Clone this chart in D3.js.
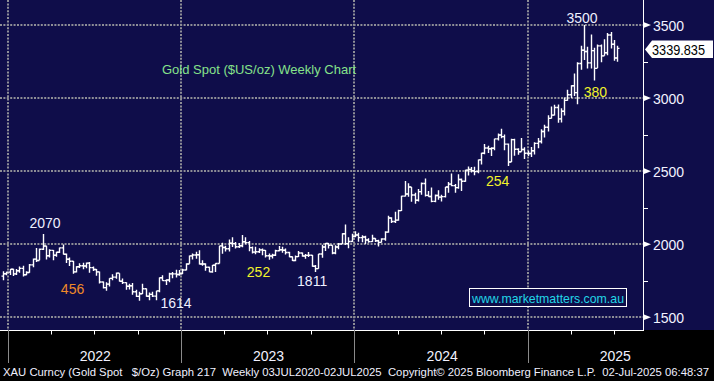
<!DOCTYPE html>
<html><head><meta charset="utf-8">
<script src="https://cdn.jsdelivr.net/npm/d3@7"></script>
<style>
html,body{margin:0;padding:0;background:#000;overflow:hidden}
svg{display:block}
text{font-family:"Liberation Sans",Arial,Helvetica,sans-serif;white-space:pre}
</style>
</head><body>
<svg id="c" width="714" height="381"></svg>
<script>
// ---- Weekly XAU bars (week ending Fridays, 17-Dec-2021 .. 04-Jul-2025) ----
const firstWeek = "2021-12-17";
const lastWeek  = "2025-07-04";

const opens = [1782,1798,1809,
1829,1797,1818,1835,1791,1807,1859,1898,1889,1966,1988,1921,1958,1925,1945,1975,1931,1897,1883,1811,1846,1853,1851,1871,1840,1827,1811,1742,1703,1727,1766,1775,1802,1747,1737,1712,1716,1675,1643,1661,1695,1644,1657,1645,1681,1771,1751,1755,1797,1797,1793,1798,
1824,1865,1920,1926,1928,1865,1865,1842,1811,1856,1868,1989,1978,1969,2007,2004,1983,1990,2017,2011,1977,1946,1948,1961,1958,1921,1919,1925,1955,1962,1959,1943,1914,1889,1915,1940,1919,1924,1925,1849,1833,1933,1981,2006,1993,1940,1981,2002,2072,2004,2019,2053,
2063,2045,2049,2029,2018,2039,2024,2013,2036,2083,2179,2156,2165,2230,2329,2344,2392,2337,2301,2360,2415,2334,2327,2293,2333,2322,2326,2392,2411,2401,2387,2443,2431,2507,2512,2503,2497,2577,2622,2658,2653,2657,2721,2747,2736,2685,2563,2716,2650,2633,2648,2622,
2621,2640,2690,2703,2771,2800,2861,2883,2936,2858,2910,2984,3023,3084,3037,3237,3327,3319,3241,3325,3203,3357,3289,3310,3432,3368,3274];

const highs = [1815,1812,1831,
1832,1830,1848,1853,1815,1865,1902,1974,1970,2070,1990,1966,1960,1948,1978,1998,1936,1910,1885,1849,1870,1874,1875,1879,1847,1830,1813,1745,1739,1767,1795,1807,1802,1765,1740,1729,1735,1688,1675,1729,1697,1670,1675,1681,1773,1787,1760,1805,1810,1825,1823,1833,
1870,1923,1937,1949,1959,1890,1870,1846,1858,1870,1989,2010,1990,2032,2048,2015,2009,2063,2048,2022,1985,1983,1973,1971,1960,1936,1935,1963,1987,1982,1970,1948,1916,1923,1953,1943,1933,1947,1927,1857,1933,1997,2009,2009,1993,1993,2008,2075,2135,2047,2071,2088,
2079,2062,2058,2041,2065,2041,2031,2041,2088,2195,2185,2223,2236,2331,2432,2418,2392,2353,2378,2422,2450,2364,2388,2340,2369,2339,2392,2425,2484,2412,2478,2450,2509,2531,2528,2530,2580,2626,2685,2673,2664,2722,2758,2790,2750,2689,2722,2721,2657,2726,2664,2639,
2665,2697,2726,2786,2817,2882,2942,2955,2956,2930,3004,3057,3087,3168,3245,3358,3500,3352,3435,3345,3366,3366,3403,3446,3452,3398,3358];

const lows = [1753,1788,1790,
1782,1790,1805,1780,1788,1805,1842,1878,1890,1961,1895,1910,1890,1915,1940,1930,1872,1851,1798,1807,1838,1828,1836,1805,1816,1785,1732,1697,1681,1711,1754,1764,1745,1727,1688,1691,1654,1639,1614,1660,1640,1617,1639,1616,1672,1750,1721,1740,1768,1773,1784,1797,
1822,1866,1896,1900,1861,1853,1819,1809,1804,1810,1868,1934,1950,1950,1981,1970,1975,1979,2000,1952,1937,1932,1940,1925,1910,1893,1902,1920,1952,1942,1929,1911,1885,1884,1913,1915,1901,1913,1846,1810,1833,1908,1953,1970,1932,1931,1965,2001,1995,1973,2016,2048,
2017,2013,2002,2010,2016,2015,1984,2011,2024,2078,2146,2146,2160,2228,2326,2324,2291,2277,2292,2338,2326,2325,2287,2287,2304,2293,2319,2352,2396,2353,2380,2364,2428,2471,2491,2472,2485,2546,2615,2625,2603,2643,2709,2725,2643,2536,2563,2605,2613,2632,2583,2603,
2596,2614,2656,2689,2730,2772,2860,2880,2832,2833,2880,2982,3000,3015,2957,3194,3260,3202,3203,3120,3205,3245,3290,3293,3340,3255,3248];

const closes = [1798,1809,1829,
1797,1818,1835,1791,1807,1859,1898,1889,1966,1988,1921,1958,1925,1945,1975,1931,1897,1883,1811,1846,1853,1851,1871,1840,1827,1811,1742,1703,1727,1766,1775,1802,1747,1737,1712,1716,1675,1643,1661,1695,1644,1657,1645,1681,1771,1751,1755,1797,1797,1793,1798,1824,
1865,1920,1926,1928,1865,1865,1842,1811,1856,1868,1989,1978,1969,2007,2004,1983,1990,2017,2011,1977,1946,1948,1961,1958,1921,1919,1925,1955,1962,1959,1943,1914,1889,1915,1940,1919,1924,1925,1849,1833,1933,1981,2006,1993,1940,1981,2002,2072,2004,2019,2053,2063,
2045,2049,2029,2018,2039,2024,2013,2036,2083,2179,2156,2165,2230,2329,2344,2392,2337,2301,2360,2415,2334,2327,2293,2333,2322,2326,2392,2411,2401,2387,2443,2431,2507,2512,2503,2497,2577,2622,2658,2653,2657,2721,2747,2736,2685,2563,2716,2650,2633,2648,2622,2621,
2640,2690,2703,2771,2800,2861,2883,2936,2858,2910,2984,3023,3084,3037,3237,3327,3319,3241,3325,3203,3357,3289,3310,3432,3368,3274,3339.835];

const lastPrice = "3339.835";
const yMajorTicks = [1500, 2000, 2500, 3000, 3500];
const yMinorTicks = [1750, 2250, 2750, 3250];
const yearLabels = ["2022", "2023", "2024", "2025"];
const quarterTicks = ["2022-04-01","2022-07-01","2022-10-01","2023-04-01","2023-07-01","2023-10-01","2024-04-01","2024-07-01","2024-10-01","2025-04-01","2025-07-01"];

const annDates  = ["2022-03-20","2022-05-17","2022-12-21","2023-06-13","2023-10-04","2024-10-29","2025-05-23","2025-04-25"];
const annValues = [2109, 1659, 1563, 1775, 1713, 2395, 3009, 3513];
const annTexts  = ["2070","456","1614","252","1811","254","380","3500"];
const annColors = ["#eef0ff","#f08a28","#eef0ff","#f2f22a","#eef0ff","#f2f22a","#f2f22a","#eef0ff"];

const titleText = "Gold Spot ($US/oz) Weekly Chart";
const siteText = "www.marketmatters.com.au";
const footerText = "XAU Curncy (Gold Spot   $/Oz) Graph 217  Weekly 03JUL2020-02JUL2025  Copyright\u00A9 2025 Bloomberg Finance L.P.  02-Jul-2025 06:48:37";

// ---- layout ----
const W = 714, H = 381, plotR = 643, plotB = 330;
const parse = d3.timeParse("%Y-%m-%d");
const svg = d3.select("#c");

const x = d3.scaleTime().domain([new Date(2022,0,1), new Date(2025,0,1)]).range([8, 528]);
const y = d3.scaleLinear().domain([1500, 3500]).range([317.3, 25]);

const weeks = d3.timeFriday.range(parse(firstWeek), d3.timeDay.offset(parse(lastWeek), 1));

// background
svg.append("rect").attr("width", W).attr("height", H).attr("fill", "#000");
svg.append("rect").attr("width", W).attr("height", plotB).attr("fill", "#0f0d4a");

const grid = svg.append("g").attr("stroke", "#8e8e96").attr("stroke-width", 2).attr("stroke-dasharray", "2,1.4");
grid.selectAll("line.h").data(yMajorTicks).join("line")
  .attr("x1", 0).attr("x2", plotR)
  .attr("y1", d => Math.round(y(d))).attr("y2", d => Math.round(y(d)));
const yearStarts = yearLabels.map(s => new Date(+s, 0, 1));
grid.selectAll("line.v").data(yearStarts).join("line")
  .attr("x1", d => Math.round(x(d))).attr("x2", d => Math.round(x(d)))
  .attr("y1", 0).attr("y2", plotB);

// x axis
svg.append("line").attr("x1", 0).attr("x2", plotR).attr("y1", plotB + 0.5).attr("y2", plotB + 0.5)
  .attr("stroke", "#fff").attr("stroke-width", 1);
svg.append("g").selectAll("line").data(quarterTicks.map(parse)).join("line")
  .attr("x1", d => Math.round(x(d)) + 0.5).attr("x2", d => Math.round(x(d)) + 0.5)
  .attr("y1", plotB).attr("y2", plotB + 4.5).attr("stroke", "#fff").attr("stroke-width", 1);
svg.append("g").selectAll("line").data(yearStarts).join("line")
  .attr("x1", d => Math.round(x(d)) + 0.5).attr("x2", d => Math.round(x(d)) + 0.5)
  .attr("y1", plotB).attr("y2", 363).attr("stroke", "#8a8a8a").attr("stroke-width", 1);
svg.append("g").selectAll("text").data(yearLabels).join("text")
  .attr("x", d => x(new Date(+d, 6, 2)) + 1).attr("y", 361)
  .attr("text-anchor", "middle").attr("font-size", 14).attr("fill", "#f2f2ff").text(d => d);

// right axis
svg.append("line").attr("x1", plotR + 0.5).attr("x2", plotR + 0.5).attr("y1", 0).attr("y2", plotB + 1)
  .attr("stroke", "#fff").attr("stroke-width", 1);
const ra = svg.append("g");
ra.selectAll("path").data(yMajorTicks).join("path")
  .attr("d", d => { const yy = y(d); return `M${plotR+1},${yy-2.8} L${plotR+8},${yy} L${plotR+1},${yy+2.8} Z`; })
  .attr("fill", "#fff");
ra.selectAll("text").data(yMajorTicks).join("text")
  .attr("x", 653).attr("y", d => y(d) + 5.5).attr("font-size", 14).attr("fill", "#f2f2ff").text(d => d);
svg.append("g").selectAll("line").data(yMinorTicks).join("line")
  .attr("x1", plotR).attr("x2", plotR + 5).attr("y1", d => Math.round(y(d)) + 0.5).attr("y2", d => Math.round(y(d)) + 0.5)
  .attr("stroke", "#fff").attr("stroke-width", 1);

// OHLC bars
const bars = svg.append("g").attr("stroke", "#fff").attr("stroke-width", 1.4).attr("fill", "none");
bars.selectAll("path").data(weeks).join("path")
  .attr("d", (d, i) => {
    const bx = Math.round(x(d) + 2) + 0.5;
    return `M${bx},${y(highs[i])}V${y(lows[i])}M${bx-2},${y(opens[i])}H${bx}M${bx},${y(closes[i])}H${bx+2}`;
  });

// last price tag
const ly = y(closes[closes.length - 1]);
svg.append("path")
  .attr("d", `M${plotR+2},${ly+1} L${plotR+9},${ly-8} H713 V${ly+9.5} H${plotR+9} Z`)
  .attr("fill", "#fff");
svg.append("text").attr("x", 652).attr("y", ly + 6.5).attr("font-size", 14).attr("fill", "#000")
  .attr("textLength", 53).attr("lengthAdjust", "spacingAndGlyphs").text(lastPrice);

// title
svg.append("text").attr("x", 162).attr("y", 74).attr("font-size", 13).attr("fill", "#86e28a").text(titleText);

// annotations
svg.append("g").selectAll("text").data(annTexts).join("text")
  .attr("x", (d, i) => x(parse(annDates[i]))).attr("y", (d, i) => y(annValues[i]))
  .attr("text-anchor", "middle").attr("font-size", 14).attr("fill", (d, i) => annColors[i]).text(d => d);

// website box
svg.append("rect").attr("x", 469.5).attr("y", 288.5).attr("width", 157).attr("height", 18)
  .attr("fill", "#0f0d4a").attr("stroke", "#fff").attr("stroke-width", 1);
svg.append("text").attr("x", 548).attr("y", 302.5).attr("text-anchor", "middle").attr("font-size", 13.5)
  .attr("fill", "#22d6e6").attr("textLength", 152).attr("lengthAdjust", "spacingAndGlyphs").text(siteText);

// footer
svg.append("text").attr("x", 3).attr("y", 376).attr("font-size", 10.8).attr("fill", "#f0f0ff")
  .attr("textLength", 706).attr("lengthAdjust", "spacingAndGlyphs").text(footerText);
</script>
</body></html>
